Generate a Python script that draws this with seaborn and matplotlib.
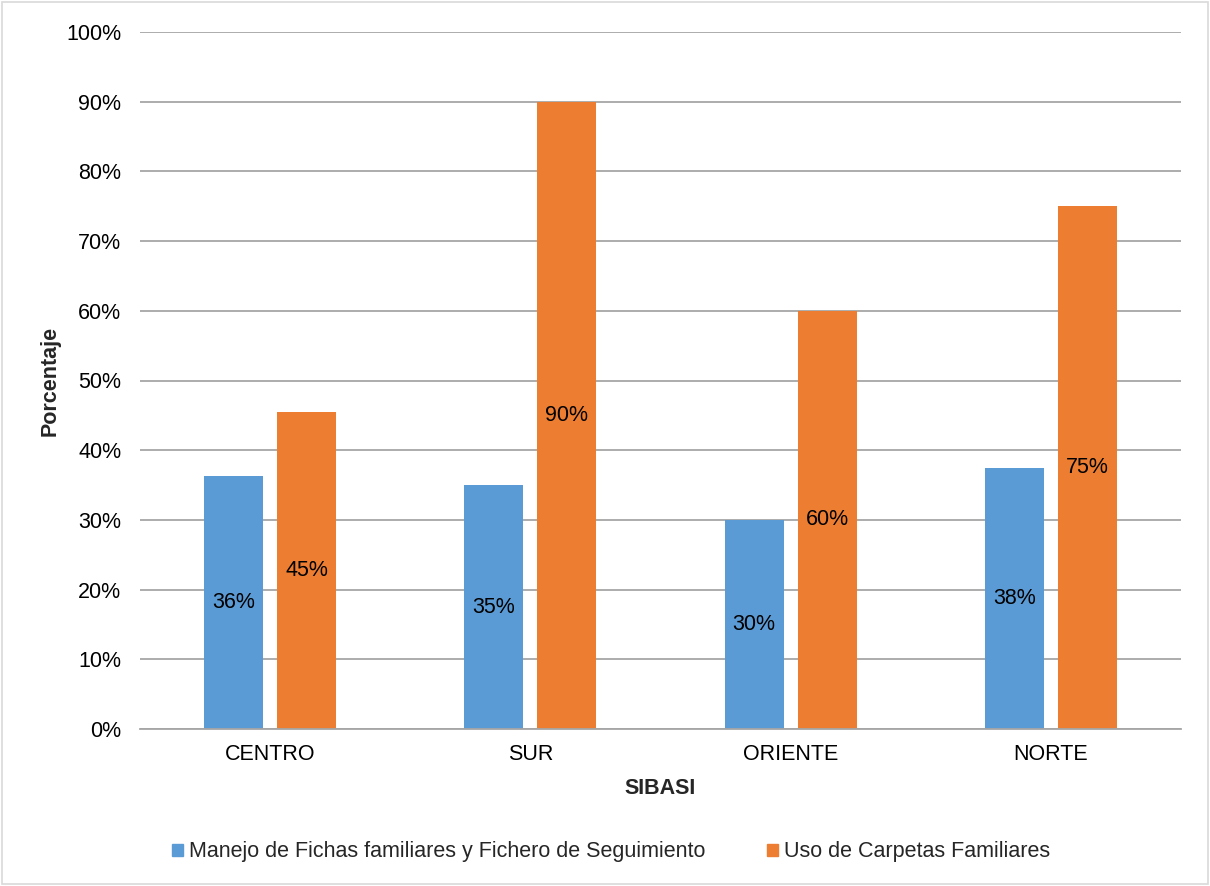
import pandas as pd
import numpy as np
import matplotlib.pyplot as plt
import seaborn as sns
from matplotlib.patches import Rectangle
from matplotlib.ticker import PercentFormatter

# data
sibasi = ['CENTRO', 'SUR', 'ORIENTE', 'NORTE']
fichas = [36.36, 35.0, 30.0, 37.5]
carpetas = [45.45, 90.0, 60.0, 75.0]
series_names = ['Manejo de Fichas familiares y Fichero de Seguimiento',
                'Uso de Carpetas Familiares']
colors = ['#5B9BD5', '#ED7D31']

df = pd.DataFrame({
    'SIBASI': sibasi * 2,
    'Serie': [series_names[0]] * 4 + [series_names[1]] * 4,
    'Valor': fichas + carpetas,
})

sns.set_theme(style='white')
plt.rcParams['font.family'] = ['Liberation Sans', 'DejaVu Sans']
fs = 15.5

fig = plt.figure(figsize=(12.1, 8.86), dpi=100)
ax = fig.add_axes([140 / 1210, 1 - 729 / 886, 1041 / 1210, 697 / 886])

sns.barplot(data=df, x='SIBASI', y='Valor', hue='Serie', order=sibasi,
            hue_order=series_names, palette=colors, width=0.5615, gap=0.192,
            saturation=1, linewidth=0, ax=ax, legend=False)

for cont in ax.containers:
    ax.bar_label(cont, labels=[f'{v:.0f}%' for v in cont.datavalues],
                 label_type='center', fontsize=fs, color='black')

ax.set_ylim(0, 100)
ax.set_xlim(-0.5, 3.5)
ax.set_yticks(np.arange(0, 101, 10))
ax.yaxis.set_major_formatter(PercentFormatter(decimals=0))
ax.grid(axis='y', color='#A6A6A6', linewidth=1.3)
ax.set_axisbelow(True)
for s in ['top', 'right', 'left']:
    ax.spines[s].set_visible(False)
ax.spines['bottom'].set_color('#A6A6A6')
ax.spines['bottom'].set_linewidth(1.3)
ax.tick_params(axis='both', length=0, labelsize=fs, colors='black')
ax.tick_params(axis='y', pad=13.5)
ax.tick_params(axis='x', pad=11)
ax.set_xlabel('SIBASI', fontsize=fs, fontweight='bold', labelpad=9)
ax.set_ylabel('Porcentaje', fontsize=fs, fontweight='bold', labelpad=4)

handles = [Rectangle((0, 0), 1, 1, color=c) for c in colors]
fig.legend(handles, series_names, loc='center', bbox_to_anchor=(0.505, 1 - 852 / 886),
           ncol=2, frameon=False, fontsize=fs, handlelength=0.5, handleheight=0.5,
           handletextpad=0.3, columnspacing=2.85)

fig.patches.append(Rectangle((0.002, 0.002), 0.996, 0.996, transform=fig.transFigure,
                             fill=False, edgecolor='#D9D9D9', linewidth=1.2))

fig.savefig('out.png', dpi=100)
